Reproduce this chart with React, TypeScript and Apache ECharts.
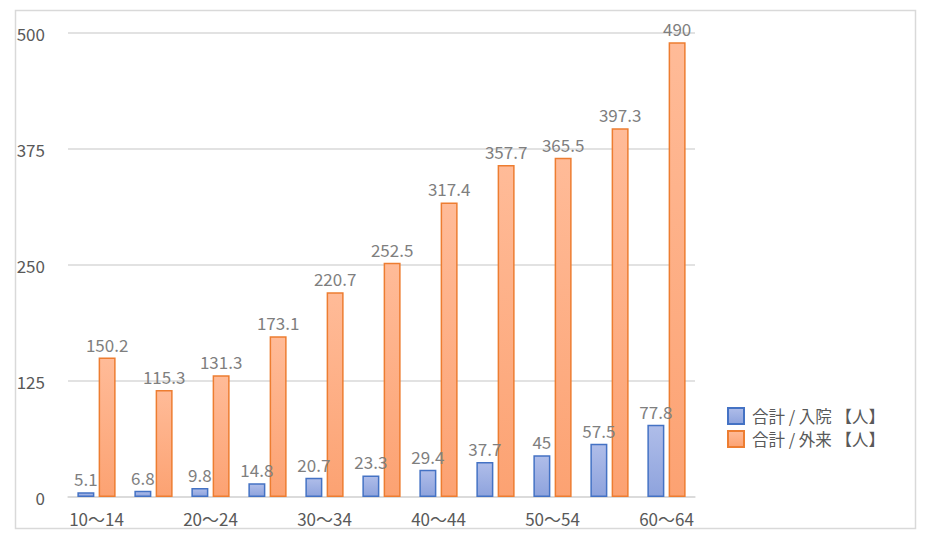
import React, { useEffect, useRef } from "react";
import * as echarts from "echarts";

const categories = ["10～14", "15～19", "20～24", "25～29", "30～34", "35～39", "40～44", "45～49", "50～54", "55～59", "60～64"];
const inpatient = [5.1, 6.8, 9.8, 14.8, 20.7, 23.3, 29.4, 37.7, 45, 57.5, 77.8];
const outpatient = [150.2, 115.3, 131.3, 173.1, 220.7, 252.5, 317.4, 357.7, 365.5, 397.3, 490];
const seriesNames = ["合計 / 入院 【人】", "合計 / 外来 【人】"];

const FONT = "'Noto Sans CJK JP', 'Noto Sans', sans-serif";

export default function App() {
  const ref = useRef<HTMLDivElement>(null);
  useEffect(() => {
    if (!ref.current) return;
    const chart = echarts.init(ref.current, null, { renderer: "svg" });
    const blueFill = new echarts.graphic.LinearGradient(0, 0, 0, 1, [
      { offset: 0, color: "#afbde9" },
      { offset: 1, color: "#8ea3dd" },
    ]);
    const orangeFill = new echarts.graphic.LinearGradient(0, 0, 0, 1, [
      { offset: 0, color: "#ffbb98" },
      { offset: 1, color: "#fca272" },
    ]);
    chart.setOption({
      animation: false,
      textStyle: { fontFamily: FONT },
      graphic: [
        {
          type: "rect",
          shape: { x: 15.5, y: 10.5, width: 900, height: 518 },
          style: { fill: "none", stroke: "#d9d9d9", lineWidth: 1.5 },
          silent: true,
        },
      ],
      grid: { left: 68, right: 231, top: 33, bottom: 43, containLabel: false },
      legend: {
        orient: "vertical",
        left: 722,
        top: 402,
        itemWidth: 16,
        itemHeight: 16,
        itemGap: 5,
        icon: "rect",
        textStyle: { color: "#595959", fontSize: 16.5, lineHeight: 18, fontFamily: FONT, padding: [0, 0, 0, 3] },
        data: seriesNames,
      },
      xAxis: {
        type: "category",
        data: categories,
        axisLine: { lineStyle: { color: "#d9d9d9", width: 1.5 } },
        axisTick: { show: false },
        axisLabel: { interval: 1, color: "#595959", fontSize: 17, margin: 13, fontFamily: FONT },
      },
      yAxis: {
        type: "value",
        min: 0,
        max: 500,
        interval: 125,
        axisLine: { show: false },
        axisTick: { show: false },
        splitLine: { lineStyle: { color: "#d9d9d9", width: 1.5 } },
        axisLabel: { color: "#595959", fontSize: 17, margin: 23, fontFamily: FONT },
      },
      series: [
        {
          name: seriesNames[0],
          type: "bar",
          data: inpatient,
          barWidth: 17,
          barGap: "25%",
          itemStyle: { color: blueFill, borderColor: "#4472c4", borderWidth: 1.5 },
          label: { show: true, position: "top", distance: 5, color: "#7f7f7f", fontSize: 17, fontFamily: FONT },
        },
        {
          name: seriesNames[1],
          type: "bar",
          data: outpatient,
          barWidth: 17,
          itemStyle: { color: orangeFill, borderColor: "#ed7d31", borderWidth: 1.5 },
          label: { show: true, position: "top", distance: 5, color: "#7f7f7f", fontSize: 17, fontFamily: FONT },
        },
      ],
    });
    return () => chart.dispose();
  }, []);
  return (
    <div
      ref={ref}
      style={{ position: "absolute", left: 0, top: 0, width: 926, height: 540, background: "#fff" }}
    />
  );
}
